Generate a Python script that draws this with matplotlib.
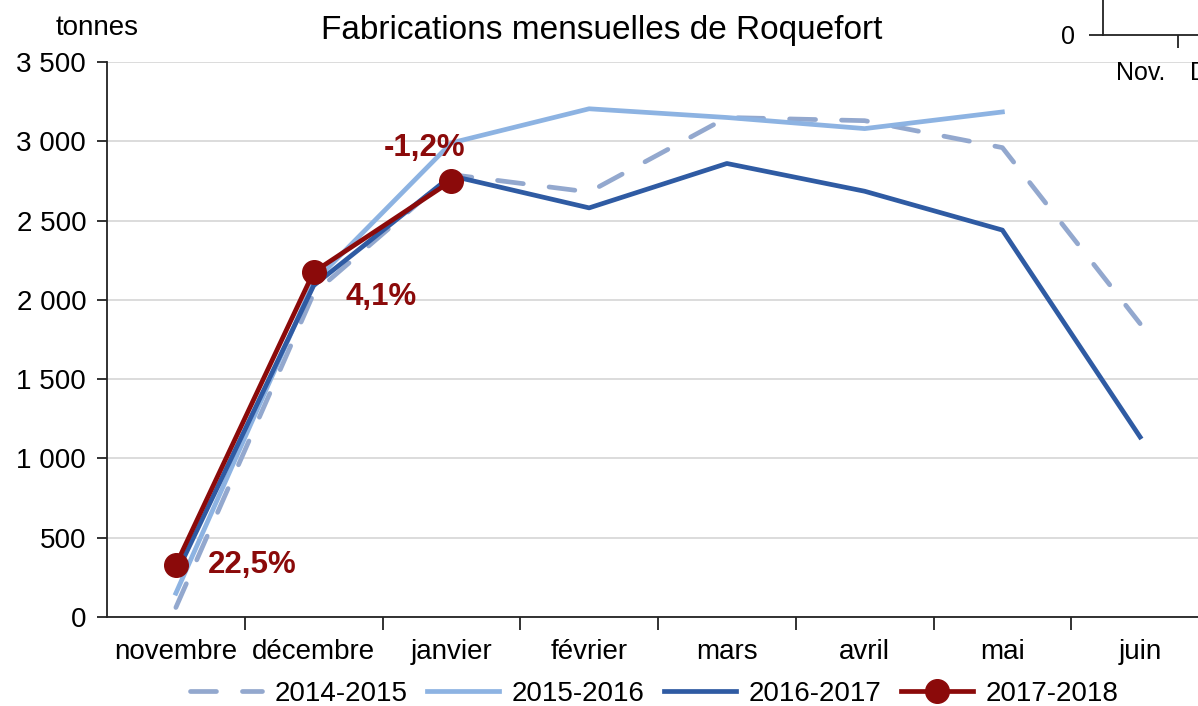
import numpy as np
import matplotlib
matplotlib.use('Agg')
import matplotlib.pyplot as plt
from matplotlib.ticker import FuncFormatter

plt.rcParams['font.family'] = ['Liberation Sans', 'DejaVu Sans']

# Data (tonnes)
months = ['novembre', 'décembre', 'janvier', 'février', 'mars', 'avril', 'mai', 'juin']
s_2014_2015 = [60, 2040, 2790, 2680, 3150, 3130, 2960, 1850]
s_2015_2016 = [150, 2110, 2990, 3205, 3150, 3080, 3185, np.nan]
s_2016_2017 = [268, 2090, 2782, 2580, 2860, 2685, 2440, 1135]
s_2017_2018 = [328, 2175, 2750]
variations = ['22,5%', '4,1%', '-1,2%']
# only the first labels of the neighbouring chart are (partly) visible
inset_months = ['Nov.', 'Déc.']

c_1415 = '#93A8CE'
c_1516 = '#8DB3E2'
c_1617 = '#2F5BA3'
c_1718 = '#8B0A0A'

W, H = 1198, 706
fig = plt.figure(figsize=(W / 100, H / 100), dpi=100)

# Main axes: plot area runs past the right edge (cropped screenshot)
left, right, top, bottom = 107, 1209, 62, 617
ax = fig.add_axes([left / W, 1 - bottom / H, (right - left) / W, (bottom - top) / H])

x = np.arange(len(months))
ax.plot(x, s_2014_2015, color=c_1415, lw=3.4, dashes=(5.5, 5.5),
        dash_capstyle='round', label='2014-2015', zorder=2)
ax.plot(x[:len(s_2015_2016)], s_2015_2016, color=c_1516, lw=3.4, label='2015-2016', zorder=3)
ax.plot(x, s_2016_2017, color=c_1617, lw=3.4, label='2016-2017', zorder=4)
ax.plot(x[:len(s_2017_2018)], s_2017_2018, color=c_1718, lw=3.4, marker='o',
        markersize=17, label='2017-2018', zorder=5)

# Variation labels next to the 2017-2018 points
offsets = [(32, 0, 'left'), (32, -25, 'left'), (-27, 33, 'center')]
for i, (txt, (dx, dy, ha)) in enumerate(zip(variations, offsets)):
    ax.annotate(txt, (x[i], s_2017_2018[i]), xytext=(dx, dy), textcoords='offset pixels',
                ha=ha, va='center', color=c_1718, fontsize=22.5, fontweight='bold')

# Axes styling
ax.set_xlim(-0.5, len(months) - 0.5)
ax.set_ylim(0, 3500)
ax.set_yticks(np.arange(0, 3501, 500))
ax.yaxis.set_major_formatter(FuncFormatter(lambda v, p: f'{int(v):,}'.replace(',', ' ')))
ax.set_xticks(np.arange(0.5, len(months) - 0.5, 1))
ax.set_xticklabels([])
ax.set_xticks(x, minor=True)
ax.set_xticklabels(months, minor=True)
ax.tick_params(axis='x', which='major', length=9, width=1.3, color='#222222')
ax.tick_params(axis='x', which='minor', length=0, pad=16, labelsize=20)
ax.tick_params(axis='y', length=7, width=1.3, color='#222222', pad=8, labelsize=20)
ax.grid(axis='y', color='#D9D9D9', lw=1.3)
ax.set_axisbelow(True)
for side in ['top', 'right']:
    ax.spines[side].set_visible(False)
for side in ['left', 'bottom']:
    ax.spines[side].set_linewidth(1.3)
    ax.spines[side].set_color('#222222')

# Title and unit
fig.text(602 / W, 1 - 31 / H, 'Fabrications mensuelles de Roquefort',
         ha='center', va='center', fontsize=24)
fig.text(97 / W, 1 - 28 / H, 'tonnes', ha='center', va='center', fontsize=20)

# Legend
handles, labels = ax.get_legend_handles_labels()
fig.legend(handles, labels, loc='center', bbox_to_anchor=(654 / W, 1 - 694 / H),
           ncol=4, frameon=False, fontsize=20, handlelength=2.6,
           handletextpad=0.45, columnspacing=0.7, borderaxespad=0)

# Fragment of a neighbouring chart visible in the top-right corner
inset = fig.add_axes([1103 / W, 1 - 35 / H, 150 / W, 80 / H])
inset.set_xlim(-0.5, len(inset_months) - 0.5)
inset.set_ylim(0, 1000)
inset.set_yticks([0])
inset.set_xticks(np.arange(0.5, len(inset_months) - 0.5, 1))
inset.set_xticklabels([])
inset.set_xticks(np.arange(len(inset_months)), minor=True)
inset.set_xticklabels(inset_months, minor=True)
inset.tick_params(axis='x', which='major', length=9, width=1.3, color='#222222')
inset.tick_params(axis='x', which='minor', length=0, pad=19, labelsize=18)
inset.tick_params(axis='y', length=10, width=1.3, color='#222222', pad=10, labelsize=18)
for side in ['top', 'right']:
    inset.spines[side].set_visible(False)
for side in ['left', 'bottom']:
    inset.spines[side].set_linewidth(1.3)
    inset.spines[side].set_color('#222222')
inset.patch.set_alpha(0)

fig.savefig('out.png', dpi=100)
